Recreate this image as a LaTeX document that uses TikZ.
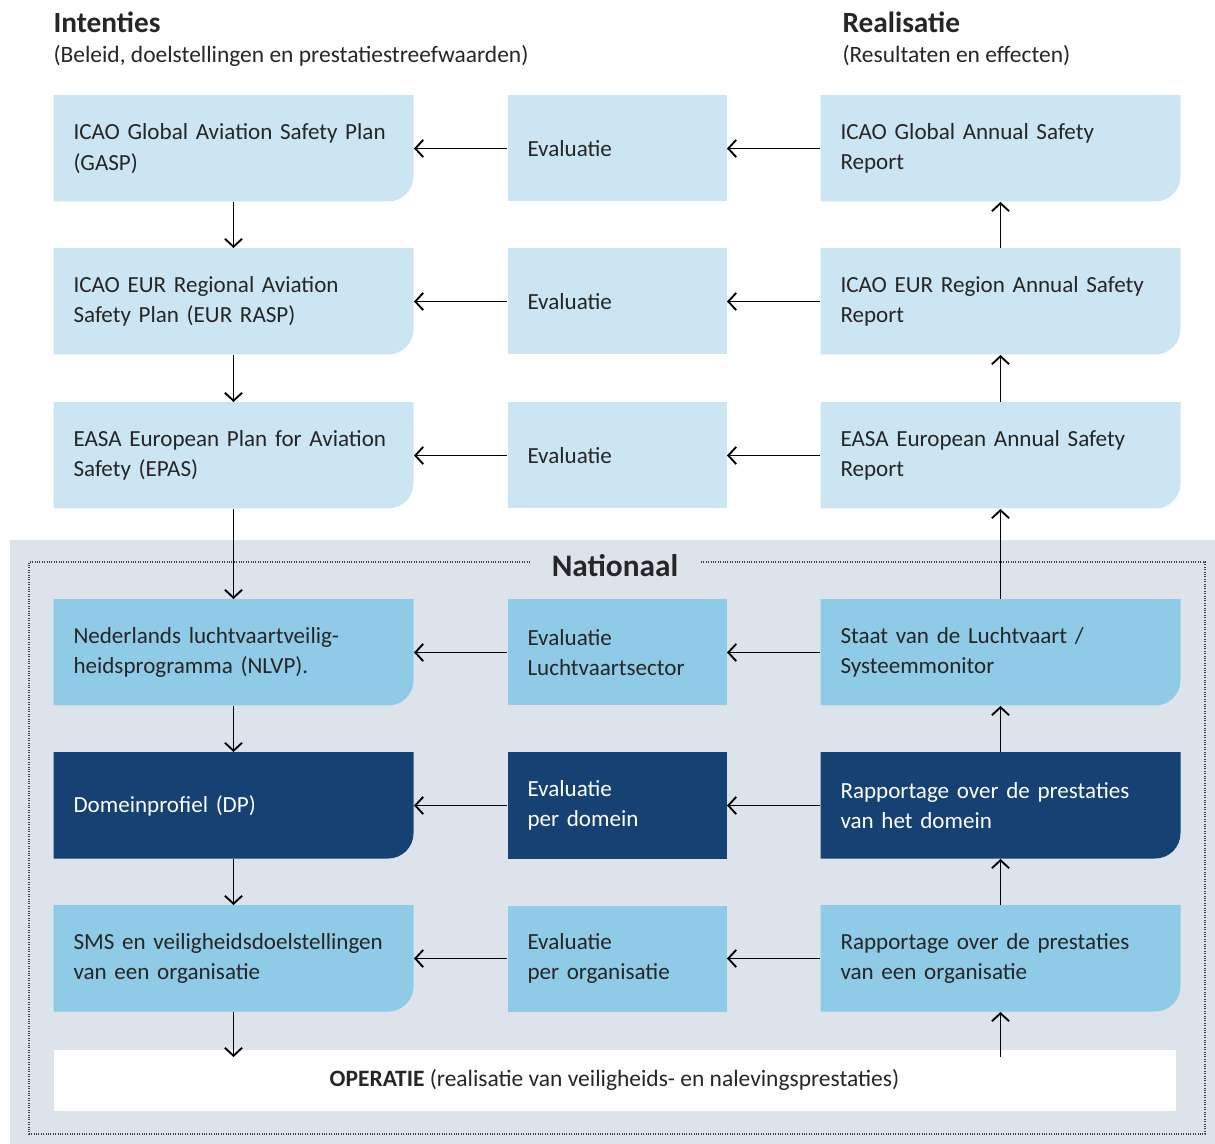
\documentclass[tikz,border=0pt]{standalone}
\usepackage{fontspec}
\setmainfont{Carlito}
\usetikzlibrary{calc}
\usetikzlibrary{arrows.meta}
\definecolor{lichtblauw}{HTML}{CCE5F3}
\definecolor{middenblauw}{HTML}{8FCAE7}
\definecolor{donkerblauw}{HTML}{154273}
\definecolor{grijsblauw}{HTML}{DCE3EB}
\definecolor{tekst}{HTML}{262626}
\tikzset{every picture/.style={line width=0.75pt}}
\tikzset{
  box/.style={anchor=north west, inner xsep=15pt, inner ysep=0pt, minimum height=79.5pt,
    align=left, text=tekst, font=\fontsize{17.3}{23}\selectfont},
  wide/.style={text width=240pt},
  small/.style={text width=134.25pt},
  hoek/.style={path picture={
    \fill[#1, rounded corners=19pt]
      ($(path picture bounding box.south east)!2!(path picture bounding box.north west)$)
      rectangle (path picture bounding box.south east);}},
  donker/.style={text=white},
  pijl/.style={draw=black, line width=1.4pt, -{Straight Barb[length=6pt,width=13pt,line width=1.4pt]}},
  kop/.style={anchor=west, inner sep=0pt, text=tekst, font=\bfseries\fontsize{22}{26}\selectfont},
  sub/.style={anchor=west, inner sep=0pt, text=tekst, font=\fontsize{17.6}{21}\selectfont},
  stippel/.style={draw=black!75, line width=1pt, dash pattern=on 0.8pt off 1pt}
}

\begin{document}
\begin{tikzpicture}[x=0.75pt,y=0.75pt,yscale=-1,xscale=1]
\useasboundingbox (0,0) rectangle (1215,1144);
\fill[white] (0,0) rectangle (1215,1144);

%Shape: national area
\fill[grijsblauw] (10,540) rectangle (1215,1144);

% Text Node
\node[kop] (intenties) at (53,22) {Intenties};
\node[sub] (beleid) at (53,56) {(Beleid, doelstellingen en prestatiestreefwaarden)};
\node[kop] (realisatie) at (842,22) {Realisatie};
\node[sub] (resultaten) at (842,56) {(Resultaten en effecten)};
\node[inner sep=0pt, text=tekst, font=\bfseries\fontsize{23.5}{28}\selectfont] (nationaal) at (615,566) {Nationaal};

%Shape: dotted border
\draw[stippel] (530,562) -- (29,562) -- (29,1134) -- (1205,1134) -- (1205,562) -- (700,562);

% row 1
\node[box,wide,hoek=lichtblauw] (gasp) at (53,95) {ICAO Global Aviation Safety Plan\\(GASP)};
\node[box,small,fill=lichtblauw] (ev1) at (507,95) {Evaluatie};
\node[box,wide,hoek=lichtblauw] (gasr) at (820,95) {ICAO Global Annual Safety\\Report};
% row 2
\node[box,wide,hoek=lichtblauw] (rasp) at (53,248) {ICAO EUR Regional Aviation\\Safety Plan (EUR RASP)};
\node[box,small,fill=lichtblauw] (ev2) at (507,248) {Evaluatie};
\node[box,wide,hoek=lichtblauw] (rasr) at (820,248) {ICAO EUR Region Annual Safety\\Report};
% row 3
\node[box,wide,hoek=lichtblauw] (epas) at (53,402) {EASA European Plan for Aviation\\Safety (EPAS)};
\node[box,small,fill=lichtblauw] (ev3) at (507,402) {Evaluatie};
\node[box,wide,hoek=lichtblauw] (easr) at (820,402) {EASA European Annual Safety\\Report};
% row 4
\node[box,wide,hoek=middenblauw] (nlvp) at (53,599) {Nederlands luchtvaartveilig-\\heidsprogramma (NLVP).};
\node[box,small,fill=middenblauw] (ev4) at (507,599) {Evaluatie\\Luchtvaartsector};
\node[box,wide,hoek=middenblauw] (staat) at (820,599) {Staat van de Luchtvaart /\\Systeemmonitor};
% row 5
\node[box,wide,donker,hoek=donkerblauw] (dp) at (53,752) {Domeinprofiel (DP)};
\node[box,small,donker,fill=donkerblauw] (ev5) at (507,752) {Evaluatie\\per domein};
\node[box,wide,donker,hoek=donkerblauw] (rapdom) at (820,752) {Rapportage over de prestaties\\van het domein};
% row 6
\node[box,wide,hoek=middenblauw] (sms) at (53,905) {SMS en veiligheidsdoelstellingen\\van een organisatie};
\node[box,small,fill=middenblauw] (ev6) at (507,905) {Evaluatie\\per organisatie};
\node[box,wide,hoek=middenblauw] (raporg) at (820,905) {Rapportage over de prestaties\\van een organisatie};

% operatie
\node[anchor=north west, fill=white, inner sep=0pt, minimum width=841.5pt, minimum height=45.75pt,
  text=tekst, font=\fontsize{17.6}{21}\selectfont] (operatie) at (53,1049)
  {\textbf{OPERATIE} (realisatie van veiligheids- en nalevingsprestaties)};

% horizontal arrows
\foreach \l/\m/\r in {gasp/ev1/gasr, rasp/ev2/rasr, epas/ev3/easr, nlvp/ev4/staat, dp/ev5/rapdom, sms/ev6/raporg} {
  \draw[pijl] (\m.west) -- (\l.east);
  \draw[pijl] (\r.west) -- (\m.east);
}

% vertical arrows
\foreach \a/\b in {gasp/rasp, rasp/epas, epas/nlvp, nlvp/dp, dp/sms}
  \draw[pijl] (\a.south) -- (\b.north);
\foreach \a/\b in {raporg/rapdom, rapdom/staat, staat/easr, easr/rasr, rasr/gasr}
  \draw[pijl] (\a.north) -- (\b.south);

\coordinate (opin) at ($(operatie.north -| sms.south)+(0,8)$);
\coordinate (opuit) at ($(operatie.north -| raporg.south)+(0,8)$);
\draw[pijl] (sms.south) -- (opin);
\draw[pijl] (opuit) -- (raporg.south);

\end{tikzpicture}
\end{document}
